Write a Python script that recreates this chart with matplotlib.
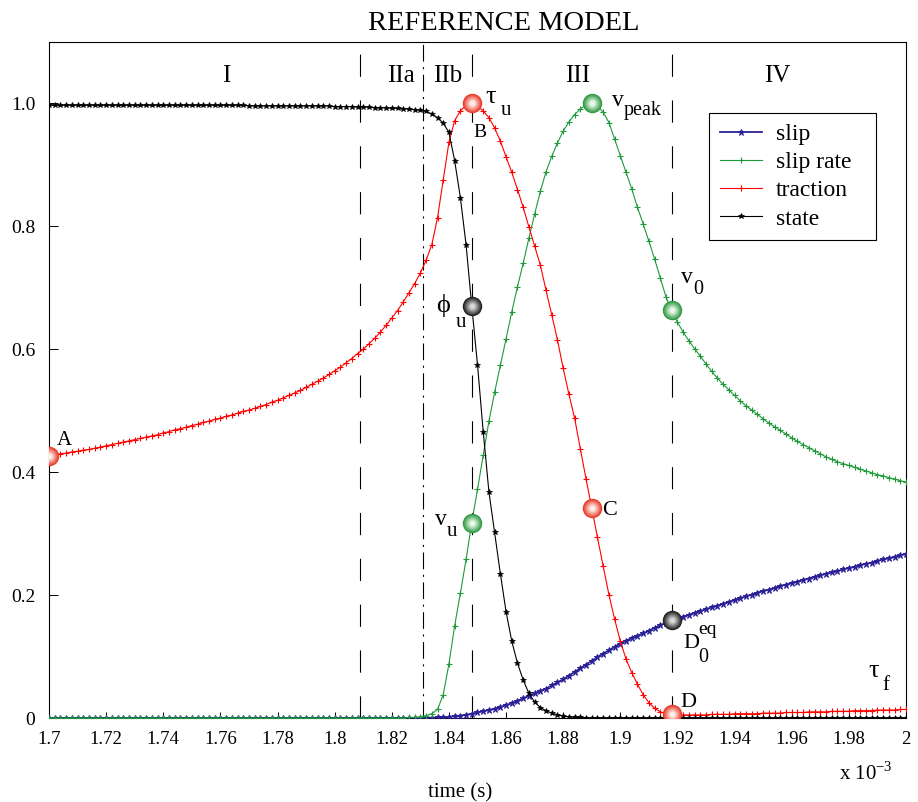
import matplotlib
matplotlib.use('Agg')
import matplotlib.pyplot as plt
import matplotlib.colors as mcolors
import numpy as np

plt.rcParams['font.family'] = ['Liberation Serif', 'DejaVu Serif']
plt.rcParams['mathtext.fontset'] = 'custom'
plt.rcParams['mathtext.rm'] = 'Liberation Serif'
plt.rcParams['lines.scale_dashes'] = False

# time axis (x 10^-3 s), one sample every 0.002
time = np.round(np.linspace(1.7, 2.0, 151), 3)

slip = [
    0, 0, 0, 0, 0, 0, 0, 0, 0, 0,
    0, 0, 0, 0, 0, 0, 0, 0, 0, 0,
    0, 0, 0, 0, 0, 0, 0, 0, 0, 0,
    0, 0, 0, 0, 0, 0, 0, 0, 0, 0,
    0, 0, 0, 0, 0, 0, 0, 0, 0, 0,
    0, 0, 0, 0, 0, 0, 0, 0, 0, 0,
    0, 0, 0, 0, 0, 0, 0, 0, 0.001, 0.001,
    0.002, 0.003, 0.004, 0.005, 0.007, 0.009, 0.011, 0.013, 0.015, 0.018,
    0.021, 0.024, 0.028, 0.032, 0.036, 0.040, 0.044, 0.048, 0.053, 0.058,
    0.063, 0.069, 0.075, 0.081, 0.087, 0.093, 0.099, 0.105, 0.110, 0.116,
    0.121, 0.126, 0.130, 0.134, 0.138, 0.142, 0.147, 0.151, 0.155, 0.159,
    0.162, 0.165, 0.168, 0.171, 0.174, 0.177, 0.180, 0.183, 0.186, 0.189,
    0.192, 0.195, 0.198, 0.201, 0.204, 0.207, 0.209, 0.212, 0.215, 0.217,
    0.220, 0.222, 0.225, 0.227, 0.230, 0.232, 0.235, 0.237, 0.239, 0.242,
    0.244, 0.246, 0.249, 0.251, 0.253, 0.256, 0.258, 0.260, 0.262, 0.265,
    0.267,
]

slip_rate = [
    0, 0, 0, 0, 0, 0, 0, 0, 0, 0,
    0, 0, 0, 0, 0, 0, 0, 0, 0, 0,
    0, 0, 0, 0, 0, 0, 0, 0, 0, 0,
    0, 0, 0, 0, 0, 0, 0, 0, 0, 0,
    0, 0, 0, 0, 0, 0, 0, 0, 0, 0,
    0, 0, 0, 0, 0, 0, 0, 0, 0, 0,
    0, 0, 0, 0.001, 0.001, 0.002, 0.004, 0.007, 0.014, 0.038,
    0.088, 0.150, 0.203, 0.258, 0.318, 0.372, 0.428, 0.483, 0.530, 0.574,
    0.617, 0.661, 0.702, 0.740, 0.781, 0.820, 0.857, 0.889, 0.914, 0.936,
    0.955, 0.970, 0.982, 0.991, 0.998, 1.000, 0.996, 0.986, 0.969, 0.942,
    0.915, 0.888, 0.861, 0.831, 0.804, 0.776, 0.747, 0.716, 0.685, 0.664,
    0.644, 0.628, 0.614, 0.601, 0.589, 0.576, 0.564, 0.553, 0.543, 0.534,
    0.525, 0.516, 0.508, 0.501, 0.494, 0.487, 0.480, 0.474, 0.468, 0.462,
    0.456, 0.450, 0.445, 0.440, 0.435, 0.430, 0.425, 0.421, 0.417, 0.414,
    0.411, 0.408, 0.405, 0.402, 0.399, 0.396, 0.394, 0.391, 0.389, 0.386,
    0.384,
]

traction = [
    0.427, 0.428, 0.430, 0.431, 0.433, 0.434, 0.436, 0.437, 0.439, 0.441,
    0.443, 0.445, 0.447, 0.449, 0.451, 0.453, 0.455, 0.457, 0.459, 0.461,
    0.464, 0.466, 0.469, 0.471, 0.473, 0.476, 0.478, 0.481, 0.483, 0.486,
    0.488, 0.491, 0.493, 0.496, 0.499, 0.501, 0.504, 0.507, 0.510, 0.514,
    0.517, 0.521, 0.525, 0.529, 0.533, 0.538, 0.543, 0.548, 0.553, 0.559,
    0.565, 0.571, 0.578, 0.585, 0.593, 0.600, 0.609, 0.618, 0.628, 0.639,
    0.651, 0.663, 0.677, 0.692, 0.707, 0.724, 0.745, 0.770, 0.814, 0.876,
    0.937, 0.972, 0.988, 0.997, 1.000, 0.996, 0.988, 0.977, 0.960, 0.939,
    0.913, 0.888, 0.860, 0.831, 0.799, 0.768, 0.737, 0.696, 0.656, 0.615,
    0.569, 0.527, 0.488, 0.438, 0.389, 0.342, 0.294, 0.247, 0.201, 0.161,
    0.125, 0.096, 0.074, 0.055, 0.038, 0.025, 0.016, 0.010, 0.007, 0.006,
    0.005, 0.005, 0.005, 0.005, 0.005, 0.005, 0.006, 0.006, 0.006, 0.006,
    0.007, 0.007, 0.007, 0.007, 0.007, 0.008, 0.008, 0.008, 0.008, 0.009,
    0.009, 0.009, 0.009, 0.010, 0.010, 0.010, 0.010, 0.011, 0.011, 0.011,
    0.011, 0.012, 0.012, 0.012, 0.012, 0.013, 0.013, 0.013, 0.013, 0.014,
    0.014,
]

state = [
    0.997, 0.997, 0.997, 0.997, 0.997, 0.997, 0.997, 0.997, 0.997, 0.997,
    0.997, 0.997, 0.997, 0.997, 0.997, 0.997, 0.997, 0.997, 0.997, 0.997,
    0.997, 0.997, 0.997, 0.997, 0.997, 0.997, 0.997, 0.997, 0.997, 0.997,
    0.997, 0.997, 0.997, 0.997, 0.997, 0.996, 0.996, 0.996, 0.996, 0.996,
    0.996, 0.996, 0.996, 0.996, 0.996, 0.996, 0.996, 0.996, 0.996, 0.996,
    0.995, 0.995, 0.995, 0.995, 0.994, 0.994, 0.994, 0.993, 0.993, 0.993,
    0.992, 0.992, 0.991, 0.991, 0.990, 0.989, 0.987, 0.983, 0.977, 0.968,
    0.953, 0.907, 0.847, 0.770, 0.670, 0.575, 0.466, 0.368, 0.302, 0.235,
    0.173, 0.125, 0.089, 0.062, 0.040, 0.026, 0.017, 0.012, 0.008, 0.005,
    0.003, 0.002, 0.001, 0.001, 0, 0, 0, 0, 0, 0,
    0, 0, 0, 0, 0, 0, 0, 0, 0, 0,
    0, 0, 0, 0, 0, 0, 0, 0, 0, 0,
    0, 0, 0, 0, 0, 0, 0, 0, 0, 0,
    0, 0, 0, 0, 0, 0, 0, 0, 0, 0,
    0, 0, 0, 0, 0, 0, 0, 0, 0, 0,
    0,
]

# phase boundaries: I|IIa, IIa|IIb, IIb|III, III|IV
phase_bounds = [1.809, 1.831, 1.848, 1.918]
phase_names = ['I', 'IIa', 'IIb', 'III', 'IV']
phase_centers = [1.762, 1.8232, 1.8395, 1.885, 1.955]

xticks = [1.70, 1.72, 1.74, 1.76, 1.78, 1.80, 1.82, 1.84, 1.86, 1.88,
          1.90, 1.92, 1.94, 1.96, 1.98, 2.00]
yticks = [0, 0.2, 0.4, 0.6, 0.8, 1.0]
ytick_labels = ['0', '0.2', '0.4', '0.6', '0.8', '1.0']

C_SLIP = '#2b2197'
C_RATE = '#1f9a3a'
C_TRAC = '#ff0000'
C_STATE = '#000000'

fig = plt.figure(figsize=(9.18, 8.02), dpi=100)
ax = fig.add_axes([0.0534, 0.1047, 0.9335, 0.8429])

ax.plot(time, slip, '-', color=C_SLIP, lw=1.3, marker='*', ms=5, mew=0.7, label='slip', zorder=3)
ax.plot(time, slip_rate, '-', color=C_RATE, lw=0.8, marker='+', ms=5, mew=0.8, label='slip rate', zorder=3)
ax.plot(time, traction, '-', color=C_TRAC, lw=0.8, marker='+', ms=5, mew=0.8, label='traction', zorder=3)
ax.plot(time, state, '-', color=C_STATE, lw=0.8, marker='*', ms=4, mew=0.5, label='state', zorder=4)

# phase separators
styles = [(0, (16, 17)), (0, (12, 4, 1.5, 4)), (0, (16, 17)), (0, (16, 17))]
for xb, ls in zip(phase_bounds, styles):
    ax.axvline(xb, color='black', lw=0.8, linestyle=ls, zorder=2)

for name, xc in zip(phase_names, phase_centers):
    ax.text(xc, 1.044, name, fontsize=18, ha='center', va='center')


def sphere(x, y, base, light):
    # shaded ball: concentric discs from rim colour to highlight
    b = np.array(mcolors.to_rgb(base))
    l = np.array(mcolors.to_rgb(light))
    sizes = [14, 12.5, 11, 9.5, 8, 6.5, 5, 3.5]
    for k, s in enumerate(sizes):
        f = k / (len(sizes) - 1)
        c = b * (1 - f) + l * f
        ax.plot(x, y, 'o', ms=s, mfc=c, mec='none', zorder=6 + k * 0.01)


def tag(x, y, text, dx, dy, size):
    # dx, dy in pixels, dy measured downward
    ax.annotate(text, (x, y), xytext=(dx, -dy), textcoords='offset pixels',
                fontsize=size, ha='left', va='baseline', zorder=9)


t = np.array(time)
i_A = 0
i_B = int(np.argmax(traction))
i_peak = int(np.argmax(slip_rate))
i_D = int(np.searchsorted(t, phase_bounds[3]))

RED, RED_L = '#e83a28', '#fff0ec'
GRN, GRN_L = '#2f9a42', '#eaf8ea'
BLK, BLK_L = '#202020', '#d8d8d8'

sphere(t[i_A], traction[i_A], RED, RED_L)
tag(t[i_A], traction[i_A], 'A', 8, -11, 15)

sphere(t[i_B], traction[i_B], RED, RED_L)
tag(t[i_B], traction[i_B], 'τ', 14, 0, 19)
tag(t[i_B], traction[i_B], 'u', 29, 12, 15)
tag(t[i_B], traction[i_B], 'B', 2, 34, 14)

sphere(t[i_B], state[i_B], BLK, BLK_L)
tag(t[i_B], state[i_B], 'ϕ', -36, 6, 19)
tag(t[i_B], state[i_B], 'u', -16, 21, 15)

sphere(t[i_B], slip_rate[i_B], GRN, GRN_L)
tag(t[i_B], slip_rate[i_B], 'v', -37, 2, 17)
tag(t[i_B], slip_rate[i_B], 'u', -25, 13, 15)

sphere(t[i_peak], slip_rate[i_peak], GRN, GRN_L)
tag(t[i_peak], slip_rate[i_peak], 'v', 20, 3, 17)
tag(t[i_peak], slip_rate[i_peak], 'peak', 32, 12, 14.5)

sphere(t[i_peak], traction[i_peak], RED, RED_L)
tag(t[i_peak], traction[i_peak], 'C', 10, 7, 16)

sphere(t[i_D], slip_rate[i_D], GRN, GRN_L)
tag(t[i_D], slip_rate[i_D], 'v', 9, -27, 17)
tag(t[i_D], slip_rate[i_D], '0', 22, -16, 14.5)

sphere(t[i_D], slip[i_D], BLK, BLK_L)
tag(t[i_D], slip[i_D], 'D', 12, 28, 16)
tag(t[i_D], slip[i_D], 'eq', 27, 14, 14)
tag(t[i_D], slip[i_D], '0', 27, 42, 14.5)

sphere(t[i_D], traction[i_D], RED, RED_L)
tag(t[i_D], traction[i_D], 'D', 9, -7, 16)

ax.text(1.9869, 0.0667, 'τ', fontsize=19, ha='left', va='baseline')
ax.text(1.9918, 0.0455, 'f', fontsize=15, ha='left', va='baseline')

ax.set_xlim(1.7, 2.0)
ax.set_ylim(0, 1.1)
ax.set_xticks(xticks)
ax.set_xticklabels(['%g' % v for v in xticks])
ax.set_yticks(yticks)
ax.set_yticklabels(ytick_labels)
ax.tick_params(axis='x', direction='in', length=4.3, width=0.7, labelsize=13.5, pad=9, top=False)
ax.tick_params(axis='y', direction='in', length=6.5, width=0.7, labelsize=14, pad=10, right=False)
for sp in ax.spines.values():
    sp.set_linewidth(0.8)

leg = ax.legend(loc='upper left', bbox_to_anchor=(0.770, 0.545, 0.195, 0.35),
                mode='expand', borderaxespad=0,
                fontsize=17, numpoints=1, handlelength=1.8, labelspacing=0.28,
                borderpad=0.45, handletextpad=0.6, fancybox=False, framealpha=1,
                edgecolor='black')
leg.get_frame().set_linewidth(0.8)

fig.text(0.549, 1 - 30 / 802, 'REFERENCE MODEL', fontsize=20.5, ha='center', va='baseline')
fig.text(0.4662, 1 - 797 / 802, 'time (s)', fontsize=15, ha='left', va='baseline')
fig.text(0.9728, 1 - 780 / 802, r'x 10$^{-3}$', fontsize=15, ha='right', va='baseline')

fig.savefig('out.png', dpi=100)
